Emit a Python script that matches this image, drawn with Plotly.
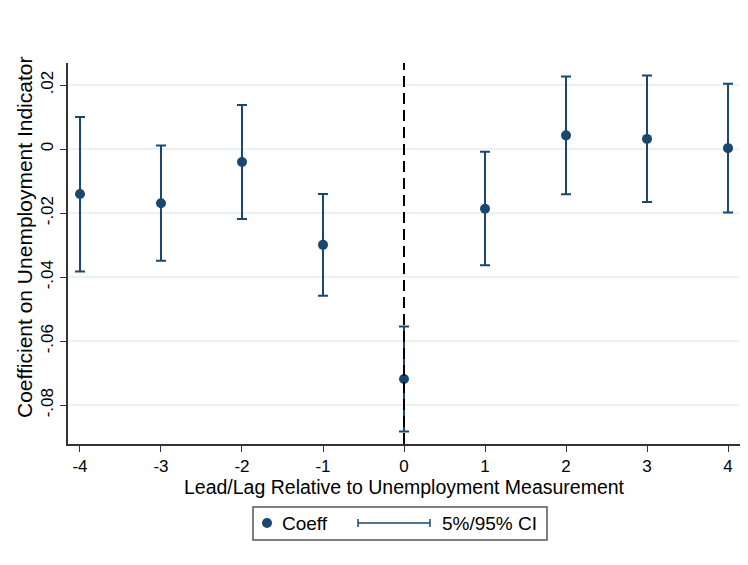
import plotly.graph_objects as go

# ---- data ----
lead_lag = [-4, -3, -2, -1, 0, 1, 2, 3, 4]
coeff = [-0.0140, -0.0169, -0.0040, -0.0299, -0.0718, -0.0186, 0.0043, 0.0032, 0.0003]
ci_upper = [0.0100, 0.0011, 0.0138, -0.0140, -0.0554, -0.0008, 0.0227, 0.0230, 0.0204]
ci_lower = [-0.0382, -0.0349, -0.0218, -0.0458, -0.0882, -0.0363, -0.0141, -0.0165, -0.0198]
y_tickvals = [0.02, 0, -0.02, -0.04, -0.06, -0.08]
y_ticktext = [".02", "0", "-.02", "-.04", "-.06", "-.08"]
x_tickvals = [-4, -3, -2, -1, 0, 1, 2, 3, 4]
x_ticktext = ["-4", "-3", "-2", "-1", "0", "1", "2", "3", "4"]
event_time = 0

NAVY = "#1a476f"
FONT = "Liberation Sans, Arial, sans-serif"

W, H = 748, 565
OFF = 8  # page body margin offset in the screenshot
# plot area in screenshot pixels: left 68, right 740, top 63, bottom 444
ML = 68 - OFF
MT = 63 - OFF
MR = W - (740 - OFF)
MB = H - (444 - OFF)
PW, PH = W - ML - MR, H - MT - MB


def px(x):
    return (x - OFF - ML) / PW


def py(y):
    return (H - MB - (y - OFF)) / PH


err_plus = [u - c for u, c in zip(ci_upper, coeff)]
err_minus = [c - l for c, l in zip(coeff, ci_lower)]

fig = go.Figure()
fig.add_trace(go.Scatter(
    x=lead_lag, y=coeff, mode="markers",
    marker=dict(color=NAVY, size=10),
    error_y=dict(type="data", symmetric=False, array=err_plus, arrayminus=err_minus,
                 color=NAVY, thickness=2, width=5),
    showlegend=False, name="Coeff",
))

fig.add_vline(x=event_time, line=dict(color="black", width=2, dash="11px,6px"))

# ---- custom legend ----
shapes = [
    dict(type="rect", xref="paper", yref="paper", x0=px(253), x1=px(547), y0=py(540), y1=py(507),
         line=dict(color="#555555", width=1.5), fillcolor="white"),
    dict(type="line", xref="paper", yref="paper", x0=px(358), x1=px(430), y0=py(523), y1=py(523),
         line=dict(color=NAVY, width=1.5)),
    dict(type="line", xref="paper", yref="paper", x0=px(358), x1=px(358), y0=py(519), y1=py(527),
         line=dict(color=NAVY, width=1.5)),
    dict(type="line", xref="paper", yref="paper", x0=px(430), x1=px(430), y0=py(519), y1=py(527),
         line=dict(color=NAVY, width=1.5)),
    dict(type="circle", xref="paper", yref="paper", x0=px(262), x1=px(272), y0=py(528), y1=py(518),
         line=dict(color=NAVY, width=0), fillcolor=NAVY),
]
for s in shapes:
    fig.add_shape(**s)

fig.add_annotation(text="Coeff", xref="paper", yref="paper", x=px(280), y=py(523),
                   xanchor="left", yanchor="middle", showarrow=False,
                   font=dict(family=FONT, size=19, color="black"))
fig.add_annotation(text="5%/95% CI", xref="paper", yref="paper", x=px(440), y=py(523),
                   xanchor="left", yanchor="middle", showarrow=False,
                   font=dict(family=FONT, size=19, color="black"))
# y-axis title (as annotation so it can sit where the reference has it)
fig.add_annotation(text="Coefficient on Unemployment Indicator", xref="paper", yref="paper",
                   x=px(24), y=py(238), xanchor="center", yanchor="middle", textangle=-90,
                   showarrow=False, font=dict(family=FONT, size=21, color="black"))

fig.update_layout(
    width=W, height=H,
    margin=dict(l=ML, r=MR, t=MT, b=MB, autoexpand=False),
    paper_bgcolor="white", plot_bgcolor="white",
    font=dict(family=FONT, color="black"),
    showlegend=False,
    xaxis=dict(
        range=[-4.148, 4.148], tickvals=x_tickvals, ticktext=x_ticktext,
        ticks="outside", ticklen=6, tickcolor="#333333", showgrid=False, zeroline=False,
        showline=True, linecolor="#333333", linewidth=1.5, automargin=False,
        tickfont=dict(size=17), title=dict(text="Lead/Lag Relative to Unemployment Measurement",
                                           font=dict(size=19.5), standoff=2),
    ),
    yaxis=dict(
        range=[-0.0921, 0.0269], tickvals=y_tickvals, ticktext=y_ticktext, tickangle=-90,
        ticks="outside", ticklen=6, tickcolor="#333333",
        showgrid=True, gridcolor="#eaf2f3", gridwidth=1.5, zeroline=False,
        showline=True, linecolor="#333333", linewidth=1.5, automargin=False,
        tickfont=dict(size=17),
    ),
)

fig.write_html("out.html")
